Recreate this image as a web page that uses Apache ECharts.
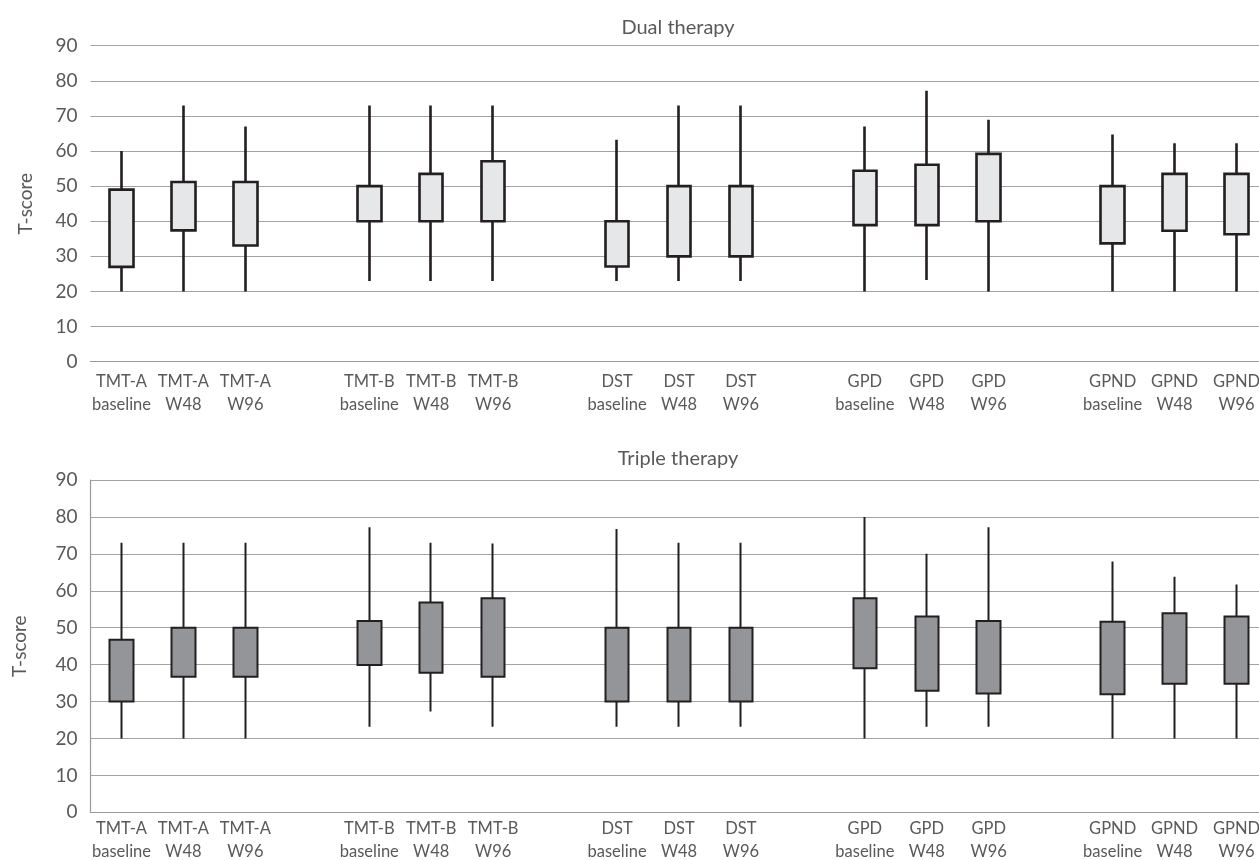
<!DOCTYPE html>
<html>
<head>
<meta charset="utf-8">
<script src="https://cdn.jsdelivr.net/npm/echarts@6/dist/echarts.min.js"></script>
<style>
html,body{margin:0;padding:0;background:#fff;}
#chart{width:1259px;height:860px;}
</style>
</head>
<body>
<div id="chart"></div>
<script>
// ---- data ----
const groups = ['TMT-A', 'TMT-B', 'DST', 'GPD', 'GPND'];
const timepoints = ['baseline', 'W48', 'W96'];
const yTicks = [0, 10, 20, 30, 40, 50, 60, 70, 80, 90];

// Dual therapy (order: group x timepoint)
const dualMin = [20, 20, 20, 23, 23, 23, 23, 23, 23, 20, 23.3, 20, 20, 20, 20];
const dualQ1  = [27, 37.4, 33.1, 40, 40, 40, 27.1, 30, 30, 38.9, 38.9, 40, 33.7, 37.3, 36.3];
const dualQ3  = [49, 51.2, 51.2, 50, 53.5, 57.1, 40, 50, 50, 54.4, 56.1, 59.2, 50, 53.5, 53.5];
const dualMax = [60, 73, 67, 73, 73, 73, 63.2, 73, 73, 67, 77.2, 68.9, 64.7, 62.2, 62.2];

// Triple therapy
const tripleMin = [20, 20, 20, 23.2, 27.3, 23.2, 23.2, 23.2, 23.2, 20, 23.2, 23.2, 20, 20, 20];
const tripleQ1  = [30, 36.7, 36.7, 39.9, 37.8, 36.7, 30, 30, 30, 39, 32.9, 32.2, 32, 34.8, 34.8];
const tripleQ3  = [46.7, 50, 50, 51.8, 56.8, 58, 50, 50, 50, 58, 53, 51.8, 51.6, 53.9, 53];
const tripleMax = [73, 73, 73, 77.2, 73, 72.8, 76.7, 73, 73, 80, 70, 77.2, 67.9, 63.8, 61.7];

// ---- build slots (empty slot between groups) ----
const categories = [];
const slotIndex = [];
groups.forEach((g, gi) => {
  timepoints.forEach(t => { slotIndex.push(categories.length); categories.push(g + '\n' + t); });
  if (gi < groups.length - 1) categories.push('');
});
function buildData(mn, q1, q3, mx) {
  const d = categories.map(() => '-');
  slotIndex.forEach((s, i) => { d[s] = [q1[i], q3[i], mn[i], mx[i]]; });
  return d;
}

const FONT = 'Lato';
const TXT = '#58595b';

function xAxis(gridIndex, margin) {
  return {
    type: 'category', gridIndex, data: categories, boundaryGap: true,
    axisTick: { show: false },
    axisLine: { show: true, lineStyle: { color: '#9a9a9a', width: 1.2 } },
    axisLabel: { interval: 0, color: TXT, fontFamily: FONT, fontSize: 16.5, lineHeight: 23, margin }
  };
}
function yAxis(gridIndex, showLine, nameGap) {
  return {
    type: 'value', gridIndex, min: yTicks[0], max: yTicks[yTicks.length - 1], interval: 10,
    name: 'T-score', nameLocation: 'middle', nameGap,
    nameTextStyle: { color: TXT, fontFamily: FONT, fontSize: 19 },
    axisLine: { show: showLine, lineStyle: { color: '#9a9a9a', width: 1.2 } },
    axisTick: { show: false },
    axisLabel: { color: TXT, fontFamily: FONT, fontSize: 19, margin: 13 },
    splitLine: { show: true, lineStyle: { color: '#a3a3a3', width: 1.2 } }
  };
}

const chart = echarts.init(document.getElementById('chart'), null, { renderer: 'canvas' });
chart.setOption({
  animation: false,
  backgroundColor: '#fff',
  graphic: [
    { type: 'text', x: 678, y: 28, style: { text: 'Dual therapy', fill: TXT, font: '20px ' + FONT, textAlign: 'center', textVerticalAlign: 'middle' } },
    { type: 'text', x: 678, y: 459, style: { text: 'Triple therapy', fill: TXT, font: '20px ' + FONT, textAlign: 'center', textVerticalAlign: 'middle' } }
  ],
  grid: [
    { left: 90.5, top: 45.7, width: 1177, height: 316, outerBoundsMode: 'none', containLabel: false },
    { left: 90.5, top: 480, width: 1177, height: 332.3, outerBoundsMode: 'none', containLabel: false }
  ],
  xAxis: [xAxis(0, 8), xAxis(1, 5)],
  yAxis: [yAxis(0, false, 55), yAxis(1, true, 61.5)],
  series: [
    {
      type: 'candlestick', xAxisIndex: 0, yAxisIndex: 0, barWidth: 24,
      data: buildData(dualMin, dualQ1, dualQ3, dualMax),
      itemStyle: { color: '#e6e7e8', color0: '#e6e7e8', borderColor: '#231f20', borderColor0: '#231f20', borderWidth: 2.6 }
    },
    {
      type: 'candlestick', xAxisIndex: 1, yAxisIndex: 1, barWidth: 24,
      data: buildData(tripleMin, tripleQ1, tripleQ3, tripleMax),
      itemStyle: { color: '#939598', color0: '#939598', borderColor: '#231f20', borderColor0: '#231f20', borderWidth: 2 }
    }
  ]
});
</script>
</body>
</html>
